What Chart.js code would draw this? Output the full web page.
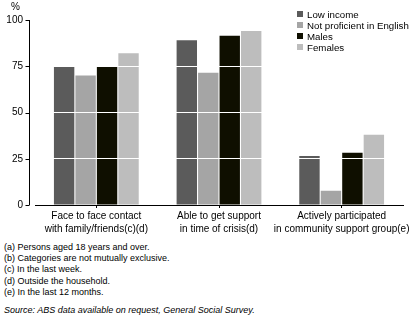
<!DOCTYPE html>
<html><head><meta charset="utf-8">
<script src="https://cdn.jsdelivr.net/npm/chart.js@4"></script>
<style>
html,body{margin:0;padding:0;background:#fff;}
body{width:416px;height:321px;position:relative;overflow:hidden;font-family:"Liberation Sans",Arial,sans-serif;}
#wrap{position:absolute;left:0;top:0;width:416px;height:240px;}
#pct{position:absolute;left:11px;top:1px;font-size:10px;color:#000;}
#notes{position:absolute;left:4px;top:242px;font-size:9px;color:#000;line-height:11.2px;}
#src{margin-top:7px;font-style:italic;}
</style></head>
<body>
<div id="wrap"><canvas id="c"></canvas></div>
<div id="pct">%</div>
<div id="notes">
<div>(a) Persons aged 18 years and over.</div>
<div>(b) Categories are not mutually exclusive.</div>
<div>(c) In the last week.</div>
<div>(d) Outside the household.</div>
<div>(e) In the last 12 months.</div>
<div id="src">Source: ABS data available on request, General Social Survey.</div>
</div>
<script>
const categories = [
  ['Face to face contact','with family/friends(c)(d)'],
  ['Able to get support','in time of crisis(d)'],
  ['Actively participated','in community support group(e)']
];
const seriesNames = ['Low income','Not proficient in English','Males','Females'];
const lowIncome = [75, 89, 26.5];
const notProficient = [70, 71.5, 7.7];
const males = [75, 91.5, 28.3];
const females = [82, 94, 38];
const yTicks = [0, 25, 50, 75, 100];
const colors = ['#5b5b5b','#a5a5a5','#0f0f00','#bdbdbd'];
const values = [lowIncome, notProficient, males, females];
const FONT = '"Liberation Sans", Arial, sans-serif';

const extras = {
  id: 'extras',
  afterDraw(chart) {
    const ctx = chart.ctx, y = chart.scales.y;
    const ax = 29.5;
    ctx.save();
    ctx.strokeStyle = '#000'; ctx.lineWidth = 1;
    ctx.beginPath();
    ctx.moveTo(ax, y.getPixelForValue(100));
    ctx.lineTo(ax, y.getPixelForValue(0));
    yTicks.forEach(v => {
      const p = Math.round(y.getPixelForValue(v)) + 0.5;
      ctx.moveTo(ax - 4, p); ctx.lineTo(ax, p);
    });
    ctx.stroke();
    // legend
    ctx.font = '9.7px ' + FONT;
    ctx.textBaseline = 'alphabetic';
    ctx.textAlign = 'left';
    for (let i = 0; i < seriesNames.length; i++) {
      const cy = 14 + i * 11;
      ctx.fillStyle = colors[i];
      ctx.fillRect(297, cy - 3, 6, 6);
      ctx.fillStyle = '#000';
      ctx.fillText(seriesNames[i], 307, cy + 3.5);
    }
    ctx.restore();
  }
};

new Chart(document.getElementById('c'), {
  type: 'bar',
  data: {
    labels: categories,
    datasets: seriesNames.map((n,i)=>({
      label: n, data: values[i], backgroundColor: colors[i],
      barPercentage: 0.95, categoryPercentage: 0.7
    }))
  },
  plugins: [extras],
  options: {
    responsive: true, maintainAspectRatio: false, animation: false,
    layout: { padding: { top: 20, right: 13, left: 0, bottom: 0 } },
    plugins: { legend: { display: false }, tooltip: { enabled: false } },
    scales: {
      x: {
        afterFit: s => { s.height = 35; },
        grid: { display: true, drawOnChartArea: false, offset: false, tickColor: '#000', tickLength: 3 },
        border: { color: '#000', width: 1 },
        ticks: { color: '#000', font: { family: FONT, size: 10, lineHeight: 1.35 }, padding: 1, maxRotation: 0, autoSkip: false }
      },
      y: {
        min: 0, max: 100,
        afterFit: s => { s.width = 35; },
        afterBuildTicks: s => { s.ticks = yTicks.map(v=>({value:v})); },
        grid: { z: 1, drawTicks: false, color: c => (c.tick && c.tick.value === 0) ? 'rgba(0,0,0,0)' : '#fff', lineWidth: 1 },
        border: { display: false },
        ticks: { color: '#000', font: { family: FONT, size: 10 }, padding: 12 }
      }
    }
  }
});
</script>
</body></html>
